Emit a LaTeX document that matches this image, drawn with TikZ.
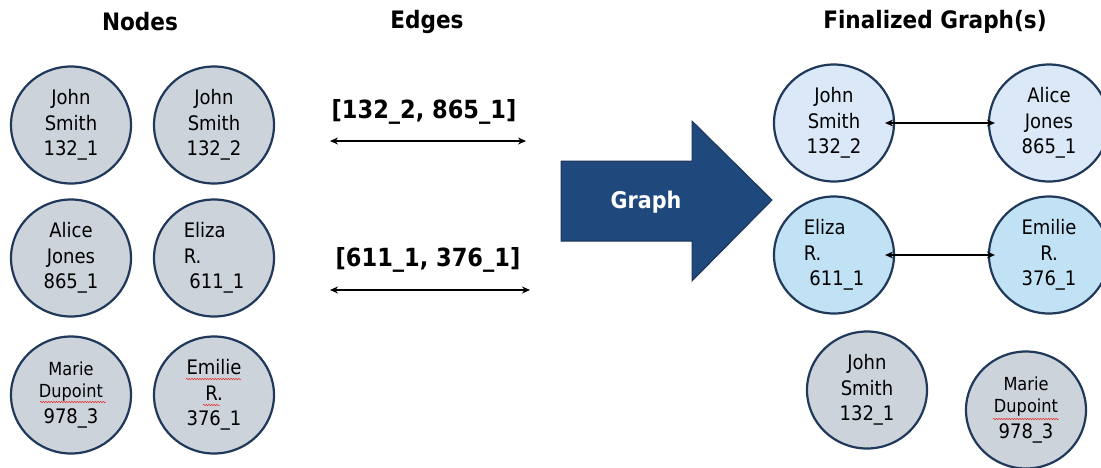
\documentclass[tikz,border=0pt]{standalone}
\usepackage{fontspec}
\setmainfont{DejaVu Sans}
\newfontfamily\condfont{DejaVu Sans Condensed}
\usetikzlibrary{shapes.geometric,decorations.pathmorphing,arrows.meta}
\definecolor{ring}{RGB}{32,56,90}
\definecolor{greyfill}{RGB}{205,211,219}
\definecolor{paleblue}{RGB}{218,232,247}
\definecolor{skyblue}{RGB}{192,226,244}
\definecolor{arrowblue}{RGB}{31,73,125}
\definecolor{arrowedge}{RGB}{28,52,86}
\definecolor{squiggle}{RGB}{230,40,40}
\newcommand{\smallline}[1]{{\fontsize{18}{22}\selectfont #1}}
\begin{document}
\begin{tikzpicture}[x=1pt,y=-1pt,
  person/.style={ellipse, draw=ring, line width=2.2pt, minimum width=120pt,
    minimum height=117pt, inner sep=0pt, align=center,
    font=\condfont\fontsize{20}{25.5}\selectfont},
  grey/.style={fill=greyfill},
  pale/.style={fill=paleblue},
  sky/.style={fill=skyblue},
  header/.style={font=\condfont\bfseries\fontsize{24}{28}\selectfont},
  edgelabel/.style={font=\condfont\bfseries\fontsize{25}{29}\selectfont},
  link/.style={{Stealth[length=8pt,width=7pt]}-{Stealth[length=8pt,width=7pt]}, line width=2.4pt},
  spell/.style={squiggle, line width=0.5pt, decorate,
    decoration={snake, amplitude=0.7pt, segment length=2.6pt}}]
\useasboundingbox (0,0) rectangle (1101,467);

% column headings
\node[header] (hnodes) at (140,22) {Nodes};
\node[header] (hedges) at (427,22) {Edges};
\node[header] (hgraph) at (935,22) {Finalized Graph(s)};

% input records
\node[person, grey] (a1) at (71,125) {John\\Smith\\132\_1};
\node[person, grey] (a2) at (214,125) {John\\Smith\\132\_2};
\node[person, grey] (a3) at (71,258) {Alice\\Jones\\865\_1};
\node[person, grey, align=left] (a4) at (214,258) {Eliza\\R.\\\ 611\_1};
\node[person, grey] (a5) at (71,395) {\smallline{Marie}\\[-3.5pt]\smallline{Dupoint}\\978\_3};
\node[person, grey] (a6) at (214,395) {Emilie\\R.\\376\_1};

% spell-check marks
\draw[spell] (40,402) -- (106,402);
\draw[spell] (186,379) -- (241,379);
\draw[spell] (203,405) -- (220,405);

% candidate edges
\node[edgelabel] (l1) at (424,112) {[132\_2, 865\_1]};
\coordinate (e1a) at (330,141);
\coordinate (e1b) at (526,141);
\draw[link] (e1a) -- (e1b);
\node[edgelabel] (l2) at (428,260) {[611\_1, 376\_1]};
\coordinate (e2a) at (330,290);
\coordinate (e2b) at (530,290);
\draw[link] (e2a) -- (e2b);

% block arrow
\draw[fill=arrowblue, draw=arrowedge, line width=1pt, line join=miter]
  (561,161) -- (692,161) -- (692,121) -- (772,200) -- (692,281)
  -- (692,241) -- (561,241) -- cycle;
\node[font=\condfont\bfseries\fontsize{23}{27}\selectfont, text=white] (glabel) at (646,202) {Graph};

% resulting graphs
\node[person, pale] (b1) at (834,123) {John\\Smith\\132\_2};
\node[person, pale] (b2) at (1049,123) {Alice\\Jones\\865\_1};
\node[person, sky, align=left] (b3) at (834,255) {Eliza\\R.\\\ 611\_1};
\node[person, sky] (b4) at (1049,255) {Emilie\\R.\\376\_1};
\node[person, grey] (b5) at (867,390) {John\\Smith\\132\_1};
\node[person, grey] (b6) at (1026,410) {\smallline{Marie}\\[-3.5pt]\smallline{Dupoint}\\978\_3};
\draw[spell] (993,419) -- (1059,419);

\draw[link, shorten <=-10pt, shorten >=-7pt] (b1.east) -- (b2.west);
\draw[link, shorten <=-10pt, shorten >=-7pt] (b3.east) -- (b4.west);
\end{tikzpicture}
\end{document}
